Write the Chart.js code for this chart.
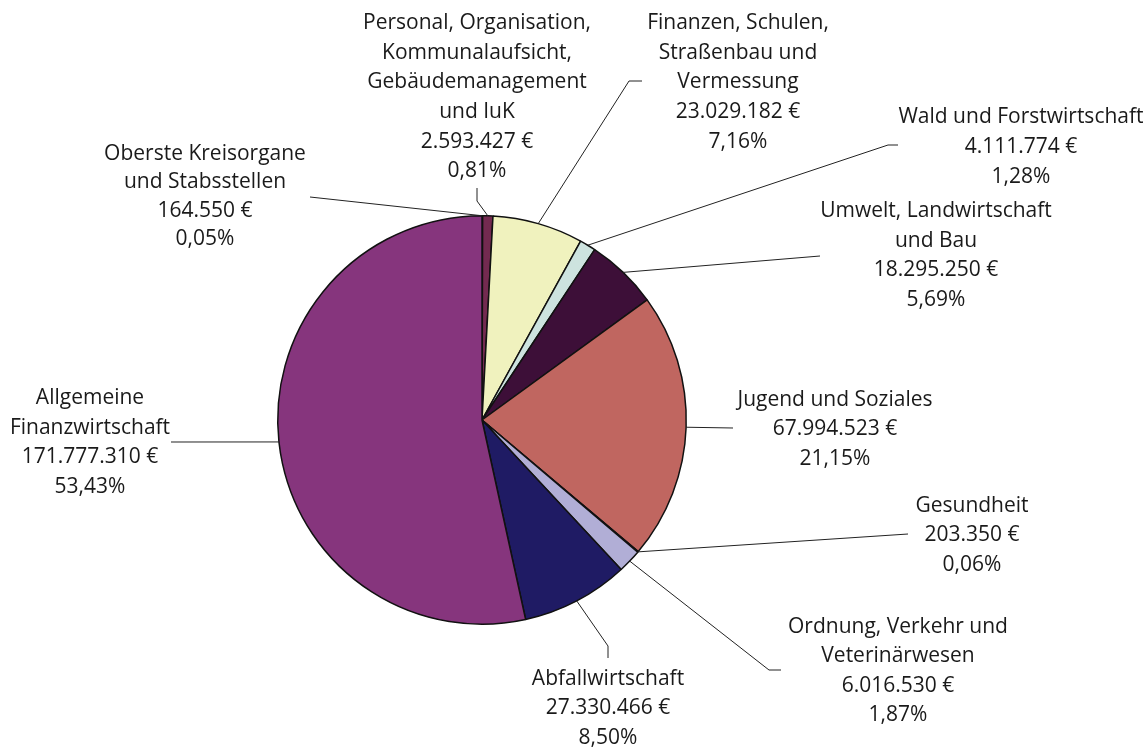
<!DOCTYPE html>
<html>
<head>
<meta charset="utf-8">
<script src="https://cdn.jsdelivr.net/npm/chart.js@4/dist/chart.umd.min.js"></script>
<style>
  html, body { margin: 0; padding: 0; background: #fff; }
  #wrap { width: 1144px; height: 747px; }
</style>
</head>
<body>
<div id="wrap"><canvas id="pie"></canvas></div>
<script>
// categories, in drawing order (clockwise from 12 o'clock)
var categories = [
  ['Oberste Kreisorgane', 'und Stabsstellen'],
  ['Personal, Organisation,', 'Kommunalaufsicht,', 'Gebäudemanagement', 'und IuK'],
  ['Finanzen, Schulen,', 'Straßenbau und', 'Vermessung'],
  ['Wald und Forstwirtschaft'],
  ['Umwelt, Landwirtschaft', 'und Bau'],
  ['Jugend und Soziales'],
  ['Gesundheit'],
  ['Ordnung, Verkehr und', 'Veterinärwesen'],
  ['Abfallwirtschaft'],
  ['Allgemeine', 'Finanzwirtschaft']
];
// amounts in euro
var amounts = [164550, 2593427, 23029182, 4111774, 18295250, 67994523, 203350, 6016530, 27330466, 171777310];
var colors = ['#5c1f4c', '#732a50', '#f0f2be', '#cde3df', '#3d0f38', '#c06660', '#7b2d5a', '#b1aed6', '#1f1b64', '#86357d'];

// where each label sits: text centre x, first line y, line step, bend points of the leader line
var labelPos = [
  { x: 205, y: 154, step: 28.3, via: [[310, 197]] },
  { x: 477, y: 23, step: 29.7, via: [[477, 201], [477, 188]] },
  { x: 738, y: 23, step: 29.7, via: [[629, 81], [642, 81]] },
  { x: 1021, y: 117, step: 30, via: [[888, 145], [898, 145]] },
  { x: 936, y: 211, step: 29.7, via: [[820, 256]] },
  { x: 835, y: 400, step: 29.5, via: [[733, 428]] },
  { x: 972, y: 506, step: 29.5, via: [[908, 534]] },
  { x: 898, y: 627, step: 29.5, via: [[769, 670], [781, 670]] },
  { x: 608, y: 679, step: 29.5, via: [[608, 646], [608, 658]] },
  { x: 90, y: 398, step: 29.7, via: [[171, 442]] }
];

var total = amounts.reduce(function (a, b) { return a + b; }, 0);

function euro(v) {
  return String(v).replace(/\B(?=(\d{3})+(?!\d))/g, '.') + ' €';
}
function pct(v) {
  return (v / total * 100).toFixed(2).replace('.', ',') + '%';
}

var calloutPlugin = {
  id: 'callouts',
  afterDraw: function (chart) {
    var ctx = chart.ctx;
    var meta = chart.getDatasetMeta(0);
    ctx.save();
    ctx.strokeStyle = '#222';
    ctx.lineWidth = 1;
    ctx.fillStyle = '#1a1a1a';
    ctx.font = '21px "Open Sans"';
    ctx.textAlign = 'center';
    ctx.textBaseline = 'middle';
    meta.data.forEach(function (arc, i) {
      var p = arc.getProps(['x', 'y', 'startAngle', 'endAngle', 'outerRadius'], true);
      var mid = (p.startAngle + p.endAngle) / 2;
      var sx = p.x + Math.cos(mid) * p.outerRadius;
      var sy = p.y + Math.sin(mid) * p.outerRadius;
      var pos = labelPos[i];
      ctx.beginPath();
      ctx.moveTo(sx, sy);
      pos.via.forEach(function (pt) { ctx.lineTo(pt[0], pt[1]); });
      ctx.stroke();

      var lines = categories[i].concat([euro(amounts[i]), pct(amounts[i])]);
      lines.forEach(function (t, k) {
        ctx.fillText(t, pos.x, pos.y + k * pos.step);
      });
    });
    ctx.restore();
  }
};

new Chart(document.getElementById('pie'), {
  type: 'pie',
  data: {
    labels: categories,
    datasets: [{
      data: amounts,
      backgroundColor: colors,
      borderColor: '#111',
      borderWidth: 1.5
    }]
  },
  options: {
    responsive: true,
    maintainAspectRatio: false,
    animation: false,
    layout: { padding: { left: 277, top: 215, right: 457, bottom: 122 } },
    plugins: {
      legend: { display: false },
      tooltip: { enabled: false }
    }
  },
  plugins: [calloutPlugin]
});
</script>
</body>
</html>
